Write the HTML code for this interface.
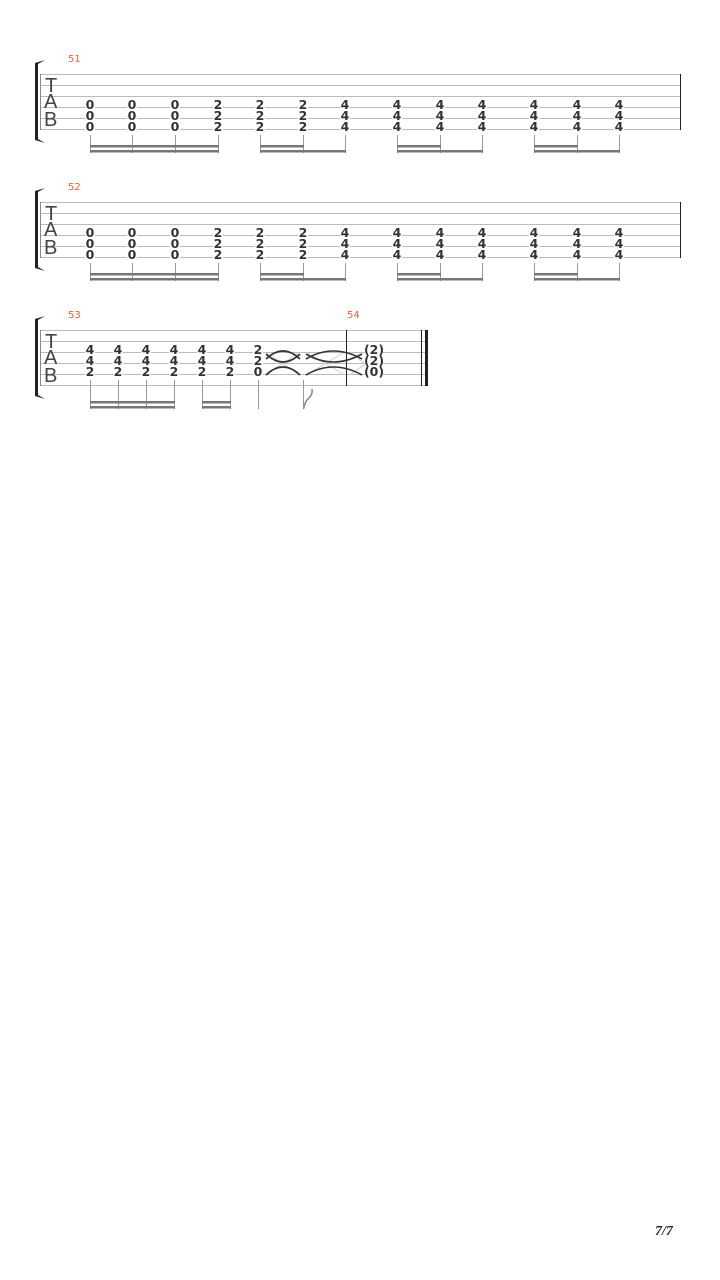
<!DOCTYPE html>
<html><head><meta charset="utf-8"><style>body{margin:0;background:#fff}svg{display:block}</style></head>
<body>
<svg width="720" height="1280" xmlns="http://www.w3.org/2000/svg" font-family="DejaVu Sans, Liberation Sans, sans-serif">
<defs>
<g id="staff">
<g stroke="#bbb" stroke-width="1">
<line x1="40" y1="74.5" x2="681" y2="74.5"/><line x1="40" y1="85.5" x2="681" y2="85.5"/><line x1="40" y1="96.5" x2="681" y2="96.5"/><line x1="40" y1="107.5" x2="681" y2="107.5"/><line x1="40" y1="118.5" x2="681" y2="118.5"/><line x1="40" y1="129.5" x2="681" y2="129.5"/>
</g>
<line x1="40.5" y1="74" x2="40.5" y2="130" stroke="#888"/>
<line x1="680.5" y1="74" x2="680.5" y2="130" stroke="#222"/>
</g>
<path id="brk" d="M45 60 L35 63 L35 140 L45 143 L38 139 L38 64 Z" fill="#222"/>
<g id="tab" font-size="20" fill="#444" font-family="Liberation Sans, sans-serif"><text x="45" y="92">T</text><text x="44" y="108">A</text><text x="44" y="126">B</text></g>
<g id="c0" font-size="12.5" font-weight="bold" fill="#333" text-anchor="middle"><rect x="-5" y="99" width="10" height="31" fill="#fff"/><text y="109">0</text><text y="120">0</text><text y="131">0</text></g>
<g id="c2" font-size="12.5" font-weight="bold" fill="#333" text-anchor="middle"><rect x="-5" y="99" width="10" height="31" fill="#fff"/><text y="109">2</text><text y="120">2</text><text y="131">2</text></g>
<g id="c4" font-size="12.5" font-weight="bold" fill="#333" text-anchor="middle"><rect x="-5" y="99" width="10" height="31" fill="#fff"/><text y="109">4</text><text y="120">4</text><text y="131">4</text></g>
<g id="c442" font-size="12.5" font-weight="bold" fill="#333" text-anchor="middle"><rect x="-5" y="99" width="10" height="31" fill="#fff"/><text y="109">4</text><text y="120">4</text><text y="131">2</text></g>
<g id="sys">
<use href="#staff"/><use href="#brk"/><use href="#tab"/>
<use href="#c0" x="90"/><use href="#c0" x="132"/><use href="#c0" x="175"/>
<use href="#c2" x="218"/><use href="#c2" x="260"/><use href="#c2" x="303"/>
<use href="#c4" x="345"/><use href="#c4" x="397"/><use href="#c4" x="440"/><use href="#c4" x="482"/><use href="#c4" x="534"/><use href="#c4" x="577"/><use href="#c4" x="619"/>
<g stroke="#999" stroke-width="1">
<line x1="90.5" y1="135" x2="90.5" y2="153"/><line x1="132.5" y1="135" x2="132.5" y2="153"/><line x1="175.5" y1="135" x2="175.5" y2="153"/><line x1="218.5" y1="135" x2="218.5" y2="153"/>
<line x1="260.5" y1="135" x2="260.5" y2="153"/><line x1="303.5" y1="135" x2="303.5" y2="153"/><line x1="345.5" y1="135" x2="345.5" y2="153"/>
<line x1="397.5" y1="135" x2="397.5" y2="153"/><line x1="440.5" y1="135" x2="440.5" y2="153"/><line x1="482.5" y1="135" x2="482.5" y2="153"/>
<line x1="534.5" y1="135" x2="534.5" y2="153"/><line x1="577.5" y1="135" x2="577.5" y2="153"/><line x1="619.5" y1="135" x2="619.5" y2="153"/>
</g>
<g fill="#777">
<rect x="90" y="145" width="129" height="2.5"/><rect x="90" y="150" width="129" height="2.5"/>
<rect x="260" y="145" width="44" height="2.5"/><rect x="260" y="150" width="86" height="2.5"/>
<rect x="397" y="145" width="44" height="2.5"/><rect x="397" y="150" width="86" height="2.5"/>
<rect x="534" y="145" width="44" height="2.5"/><rect x="534" y="150" width="86" height="2.5"/>
</g>
</g>
</defs>
<text x="68" y="62" font-size="10" fill="#e8623a">51</text>
<use href="#sys"/>
<text x="68" y="190" font-size="10" fill="#e8623a">52</text>
<use href="#sys" y="128"/>
<text x="68" y="318" font-size="10" fill="#e8623a">53</text>
<text x="347" y="318" font-size="10" fill="#e8623a">54</text>
<g transform="translate(0,256)">
<g stroke="#bbb" stroke-width="1">
<line x1="40" y1="74.5" x2="426" y2="74.5"/><line x1="40" y1="85.5" x2="426" y2="85.5"/><line x1="40" y1="96.5" x2="426" y2="96.5"/><line x1="40" y1="107.5" x2="426" y2="107.5"/><line x1="40" y1="118.5" x2="426" y2="118.5"/><line x1="40" y1="129.5" x2="426" y2="129.5"/>
</g>
<line x1="40.5" y1="74" x2="40.5" y2="130" stroke="#888"/>
<line x1="346.5" y1="74" x2="346.5" y2="130" stroke="#222"/>
<line x1="421.5" y1="74" x2="421.5" y2="130" stroke="#222"/>
<rect x="425" y="74" width="3" height="56" fill="#222"/>
<use href="#brk"/><use href="#tab"/>
<g transform="translate(0,-11)"><use href="#c442" x="90"/><use href="#c442" x="118"/><use href="#c442" x="146"/><use href="#c442" x="174"/><use href="#c442" x="202"/><use href="#c442" x="230"/></g>
<g fill="none" stroke="#ccc" stroke-width="1">
<path d="M265 96 L300 119 M265 119 L300 96 M306 96 L345 119 M306 119 L345 96 M350 96 L365 108 M350 119 L365 108"/>
</g>
<g fill="none" stroke="#333" stroke-width="1.6">
<path d="M266 103 Q283 87 300 103"/><path d="M266 98 Q283 114 300 98"/>
<path d="M266 119 Q283 103 300 119"/>
<path d="M306 103 Q333 87 362 103"/><path d="M306 98 Q333 114 362 98"/>
<path d="M306 119 Q333 103 362 119"/>
</g>
<g font-size="12.5" font-weight="bold" fill="#333" text-anchor="middle">
<rect x="253" y="88" width="10" height="31" fill="#fff"/>
<text x="258" y="98">2</text><text x="258" y="109">2</text><text x="258" y="120">0</text>
<rect x="365" y="88" width="18" height="31" fill="#fff"/>
<text x="374" y="98">(2)</text><text x="374" y="109">(2)</text><text x="374" y="120">(0)</text>
</g>
<g stroke="#999" stroke-width="1">
<line x1="90.5" y1="124" x2="90.5" y2="153"/><line x1="118.5" y1="124" x2="118.5" y2="153"/><line x1="146.5" y1="124" x2="146.5" y2="153"/><line x1="174.5" y1="124" x2="174.5" y2="153"/>
<line x1="202.5" y1="124" x2="202.5" y2="153"/><line x1="230.5" y1="124" x2="230.5" y2="153"/>
<line x1="258.5" y1="124" x2="258.5" y2="153"/><line x1="303.5" y1="124" x2="303.5" y2="153"/>
</g>
<path d="M303.5 153 Q305 145 309 142 Q313 138 312 133" fill="none" stroke="#888" stroke-width="1.5"/>
<g fill="#777">
<rect x="90" y="145" width="85" height="2.5"/><rect x="90" y="150" width="85" height="2.5"/>
<rect x="202" y="145" width="29" height="2.5"/><rect x="202" y="150" width="29" height="2.5"/>
</g>
</g>
<text x="655" y="1235" font-size="14" font-style="italic" font-weight="bold" fill="#223" font-family="Liberation Serif, serif">7/7</text>
</svg>
</body></html>
